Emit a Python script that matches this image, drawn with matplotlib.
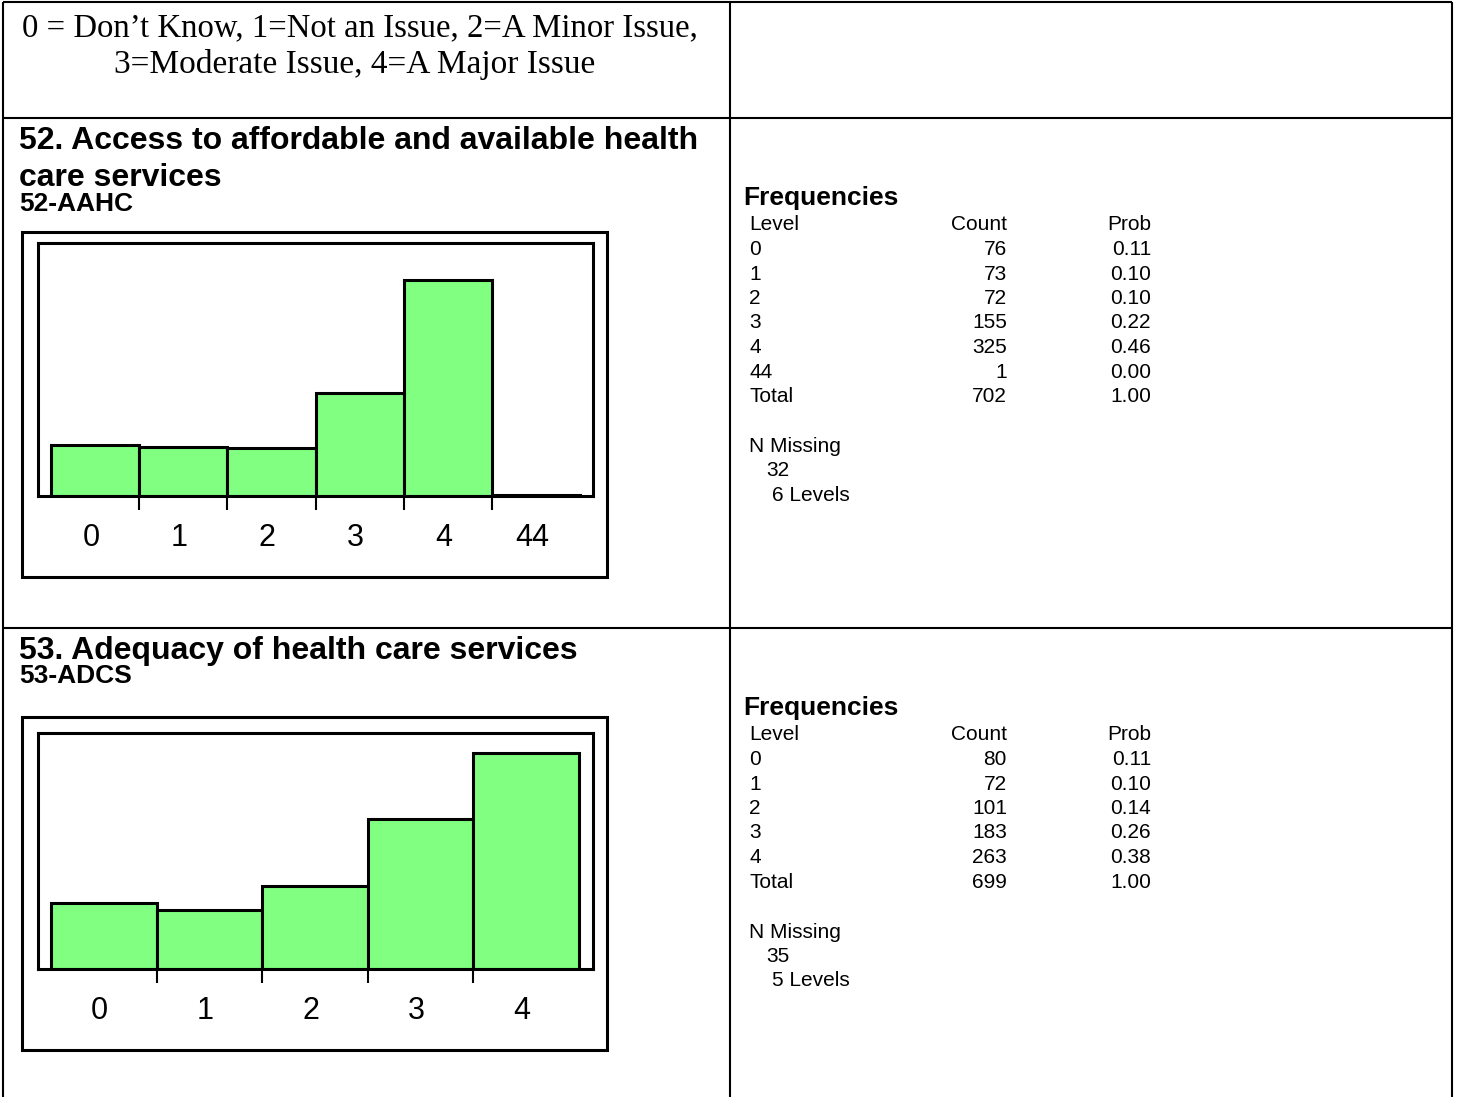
import matplotlib
matplotlib.use('Agg')
import matplotlib.pyplot as plt
import matplotlib.transforms as mtransforms
from matplotlib.patches import Rectangle

# ---------------- data ----------------
legend_lines = ["0 = Don\u2019t Know, 1=Not an Issue, 2=A Minor Issue,",
                "3=Moderate Issue, 4=A Major Issue"]

q52_title = ["52. Access to affordable and available health", "care services"]
q52_code = "52-AAHC"
q52_levels = ["0", "1", "2", "3", "4", "44"]
q52_counts = [76, 73, 72, 155, 325, 1]
q52_probs = [0.11, 0.10, 0.10, 0.22, 0.46, 0.00]
q52_total = 702
q52_prob_total = 1.00
q52_missing = 32

q53_title = ["53. Adequacy of health care services"]
q53_code = "53-ADCS"
q53_levels = ["0", "1", "2", "3", "4"]
q53_counts = [80, 72, 101, 183, 263]
q53_probs = [0.11, 0.10, 0.14, 0.26, 0.38]
q53_total = 699
q53_prob_total = 1.00
q53_missing = 35

# ---------------- layout ----------------
W, H = 1457, 1097
SANS = 'Liberation Sans'
SERIF = 'Liberation Serif'
GREEN = '#80FF80'

fig = plt.figure(figsize=(W / 100, H / 100), dpi=100)
bg = fig.add_axes([0, 0, 1, 1])
bg.set_xlim(0, W)
bg.set_ylim(H, 0)
bg.axis('off')

# table grid
lw_grid = 1.5
for x in (3, 730, 1452):
    bg.plot([x, x], [2, H + 5], color='black', lw=lw_grid, solid_capstyle='butt')
for y in (2, 118, 628):
    bg.plot([3, 1452], [y, y], color='black', lw=lw_grid, solid_capstyle='butt')

# legend text (Times)
bg.text(360, 28, legend_lines[0], ha='center', va='center', fontfamily=SERIF, fontsize=23.6)
bg.text(355, 64, legend_lines[1], ha='center', va='center', fontfamily=SERIF, fontsize=24)


def heading(lines, ys, code, code_y):
    for ln, y in zip(lines, ys):
        bg.text(19, y, ln, ha='left', va='center', fontfamily=SANS,
                fontweight='bold', fontsize=23)
    bg.text(19, code_y, code, ha='left', va='center', fontfamily=SANS,
            fontweight='bold', fontsize=19)


def hist_panel(levels, counts, outer, inner, bars_x, ymax):
    x0, y0, x1, y1 = outer
    bg.add_patch(Rectangle((x0, y0), x1 - x0, y1 - y0, fill=False, lw=2.2, ec='black'))
    l, t, r, b = inner
    ax = fig.add_axes([l / W, 1 - b / H, (r - l) / W, (b - t) / H])
    n = len(levels)
    pos = list(range(n))
    ax.bar(pos, counts, width=1.0, color=GREEN, edgecolor='black', linewidth=2.2,
           align='center')
    bx0, bx1 = bars_x
    bw = (bx1 - bx0) / n
    ax.set_xlim(-0.5 - (bx0 - l) / bw, n - 0.5 + (r - bx1) / bw)
    ax.set_ylim(0, ymax)
    for s in ax.spines.values():
        s.set_linewidth(2.2)
    ax.set_yticks([])
    ax.set_xticks([p + 0.5 for p in pos[:-1]])
    ax.set_xticklabels([])
    ax.tick_params(axis='x', which='major', direction='out', length=10, width=1.5)
    ax.set_xticks(pos, minor=True)
    ax.set_xticklabels(levels, minor=True, fontfamily=SANS, fontsize=22)
    ax.tick_params(axis='x', which='minor', length=0, pad=19.5)
    shift = mtransforms.ScaledTranslation(-4 / 100, 0, fig.dpi_scale_trans)
    for lab in ax.get_xticklabels(minor=True):
        lab.set_transform(lab.get_transform() + shift)
    return ax


def freq_table(levels, counts, probs, total, ptotal, missing, top):
    # top = y of "Frequencies"
    bg.text(743, top, "Frequencies", ha='left', va='center', fontfamily=SANS,
            fontweight='bold', fontsize=19)
    step = 24.5
    y = top + 27
    fs = 15
    bg.text(749, y, "Level", ha='left', va='center', fontfamily=SANS, fontsize=fs)
    bg.text(1007, y, "Count", ha='right', va='center', fontfamily=SANS, fontsize=fs)
    bg.text(1151, y, "Prob", ha='right', va='center', fontfamily=SANS, fontsize=fs)
    rows = list(zip(levels, counts, probs)) + [("Total", total, ptotal)]
    for lev, c, p in rows:
        y += step
        bg.text(749, y, lev, ha='left', va='center', fontfamily=SANS, fontsize=fs)
        bg.text(1007, y, str(c), ha='right', va='center', fontfamily=SANS, fontsize=fs)
        bg.text(1151, y, "%.2f" % p, ha='right', va='center', fontfamily=SANS, fontsize=fs)
    y += 50
    bg.text(749, y, "N Missing", ha='left', va='center', fontfamily=SANS, fontsize=fs)
    bg.text(766, y + 24.5, str(missing), ha='left', va='center', fontfamily=SANS, fontsize=fs)
    bg.text(772, y + 49, "%d Levels" % len(levels), ha='left', va='center',
            fontfamily=SANS, fontsize=fs)


# Question 52
heading(q52_title, [141, 178], q52_code, 204)
hist_panel(q52_levels, q52_counts, outer=(22, 232, 607, 577), inner=(38, 243, 593, 496),
           bars_x=(51, 580), ymax=380)
freq_table(q52_levels, q52_counts, q52_probs, q52_total, q52_prob_total, q52_missing, 198)

# Question 53
heading(q53_title, [651], q53_code, 676)
hist_panel(q53_levels, q53_counts, outer=(22, 717, 607, 1050), inner=(38, 733, 593, 969),
           bars_x=(51, 579), ymax=287)
freq_table(q53_levels, q53_counts, q53_probs, q53_total, q53_prob_total, q53_missing, 708)

fig.savefig('out.png', dpi=100)
